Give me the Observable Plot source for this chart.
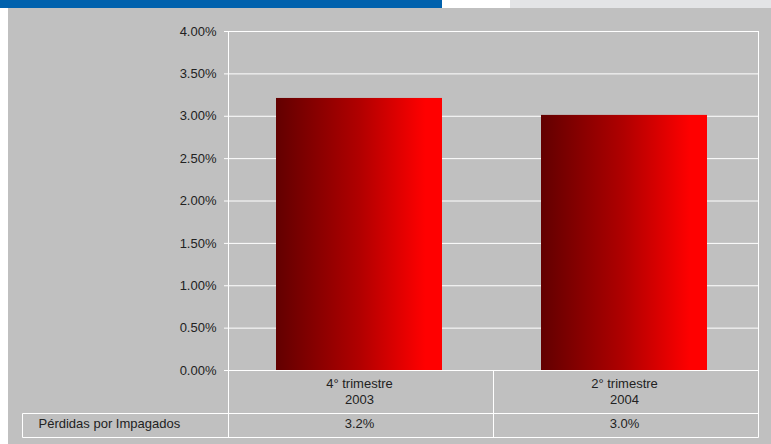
<!DOCTYPE html>
<html><head><meta charset="utf-8">
<script src="https://cdn.jsdelivr.net/npm/d3@7"></script>
<script src="https://cdn.jsdelivr.net/npm/@observablehq/plot@0.6"></script>
<style>
html,body{margin:0;padding:0;background:#fff;}
#wrap{position:relative;width:771px;height:444px;overflow:hidden;font-family:"Liberation Sans",Arial,sans-serif;}
#blue{position:absolute;left:0;top:0;width:442px;height:8px;background:#0061AD;}
#lgray{position:absolute;left:510px;top:0;width:261px;height:8px;background:#E3E4E6;}
#bg{position:absolute;left:8px;top:8px;width:763px;height:436px;background:#C0C0C0;}
#chart{position:absolute;left:0;top:0;}
</style></head>
<body><div id="wrap"><div id="blue"></div><div id="lgray"></div><div id="bg"></div><div id="chart"></div></div>
<script>
const categories = ["4° trimestre\n2003", "2° trimestre\n2004"];
const values = [0.0321, 0.0301];
const tableLabels = ["3.2%", "3.0%"];
const seriesName = "Pérdidas por Impagados";
const yTicks = [0, 0.005, 0.01, 0.015, 0.02, 0.025, 0.03, 0.035, 0.04];

const data = categories.map((c, i) => ({cat: c, value: values[i], label: tableLabels[i]}));

const defs = () => {
  const g = d3.create("svg:defs");
  const lg = g.append("linearGradient").attr("id", "barGrad").attr("x1", "0").attr("x2", "1").attr("y1", "0").attr("y2", "0");
  lg.append("stop").attr("offset", "0").attr("stop-color", "#620000");
  lg.append("stop").attr("offset", "0.5").attr("stop-color", "#B00000");
  lg.append("stop").attr("offset", "0.9").attr("stop-color", "#FF0000");
  lg.append("stop").attr("offset", "1").attr("stop-color", "#FF0000");
  return g.node();
};

const tableGrid = (index, scales, values, dims) => {
  const left = dims.marginLeft, right = dims.width - dims.marginRight;
  const bottom = dims.height - dims.marginBottom;
  const r1 = bottom + 43, r2 = bottom + 67, tl = 22;
  const n = categories.length;
  const mids = d3.range(1, n).map(i => left + (right - left) * i / n);
  const g = d3.create("svg:g").attr("stroke", "#fff").attr("stroke-width", 1).attr("fill", "none");
  const lines = [
    [left, bottom, left, r2], [right, bottom, right, r2],
    ...mids.map(m => [m, bottom, m, r2]),
    [tl, r1, right, r1], [tl, r2, right, r2], [tl, r1, tl, r2]
  ];
  for (const [a, b, c, d] of lines) g.append("line").attr("x1", Math.round(a) + 0.5).attr("y1", b + 0.5).attr("x2", Math.round(c) + 0.5).attr("y2", d + 0.5);
  return g.node();
};

const chart = Plot.plot({
  width: 771,
  height: 444,
  marginLeft: 228,
  marginRight: 13,
  marginTop: 31,
  marginBottom: 74,
  style: {background: "transparent", fontFamily: "Liberation Sans, Arial, sans-serif", fontSize: "13px", color: "#222"},
  x: {domain: categories, paddingInner: 0.375, paddingOuter: 0.185, align: 0.48, label: null},
  y: {domain: [0, 0.04], label: null},
  marks: [
    defs,
    Plot.ruleY(yTicks, {stroke: "#fff", strokeWidth: 1}),
    Plot.frame({stroke: "#fff", anchor: "left"}),
    Plot.frame({stroke: "#fff", anchor: "right"}),
    Plot.barY(data, {x: "cat", y: "value", fill: "url(#barGrad)", insetLeft: 0, insetRight: 0}),
    Plot.axisY({ticks: yTicks, tickFormat: d3.format(".2%"), tickSize: 4, tickPadding: 8, stroke: "#fff", fill: "#222", fontSize: 13, label: null}),
    Plot.axisX({tickSize: 0, tickPadding: 6, fontSize: 13, fill: "#222", lineHeight: 1.25, label: null}),
    tableGrid,
    Plot.text(data, {x: "cat", text: "label", frameAnchor: "bottom", dy: 57, fontSize: 13, fill: "#222"}),
    Plot.text([seriesName], {text: d => d, frameAnchor: "bottom-left", dx: -190, dy: 57, textAnchor: "start", fontSize: 13, fill: "#222"})
  ]
});
document.getElementById("chart").appendChild(chart);
</script></body></html>
